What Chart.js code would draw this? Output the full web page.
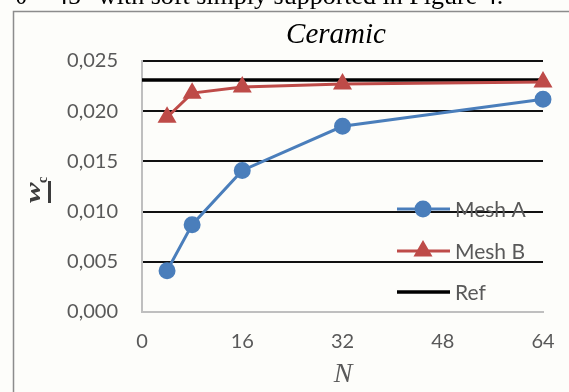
<!DOCTYPE html>
<html>
<head>
<meta charset="utf-8">
<script src="https://cdn.jsdelivr.net/npm/chart.js@4.4.1/dist/chart.umd.min.js"></script>
<style>
  body { margin: 0; background: #fdfdfa; }
  canvas { display: block; }
</style>
</head>
<body>
<canvas id="grafico" width="569" height="392"></canvas>
<script>
// datos de desplazamiento central w_c frente a N
var valoresN = [4, 8, 16, 32, 64];
var meshA = [0.0041, 0.0087, 0.0141, 0.0185, 0.0212];
var meshB = [0.0194, 0.0218, 0.0224, 0.0227, 0.0229];
var refN = [0, 64];
var refValor = [0.0231, 0.0231];
var ticksX = [0, 16, 32, 48, 64];
var ticksY = [0, 0.005, 0.010, 0.015, 0.020, 0.025];

var fuenteEje = { family: 'Lato', size: 20 };
var grisTexto = '#595959';

function puntos(xs, ys) {
    return xs.map(function (x, i) { return { x: x, y: ys[i] }; });
}

// fondo, marco, titulo y nombres de ejes
var decorado = {
    id: 'decorado',
    beforeDraw: function (chart) {
        var ctx = chart.ctx;
        ctx.save();
        ctx.fillStyle = '#fdfdfa';
        ctx.fillRect(0, 0, chart.width, chart.height);

        ctx.strokeStyle = '#8c8c8c';
        ctx.lineWidth = 1.5;
        ctx.strokeRect(13.5, 11.5, chart.width + 20, chart.height + 20);

        ctx.fillStyle = '#000';
        ctx.textAlign = 'left';
        ctx.textBaseline = 'alphabetic';
        ctx.font = '26px "Liberation Serif"';
        ctx.fillText('\u03b8 = 45\u00b0 with soft simply supported in Figure 4.', 15, 4);
        ctx.restore();
    },
    afterDraw: function (chart) {
        var ctx = chart.ctx;
        ctx.save();
        ctx.fillStyle = '#000';
        ctx.textAlign = 'center';
        ctx.textBaseline = 'alphabetic';
        ctx.font = 'italic 29px "Liberation Serif"';
        ctx.fillText('Ceramic', 336, 43);

        ctx.fillStyle = grisTexto;
        ctx.font = 'italic 28px "Liberation Serif"';
        ctx.fillText('N', 343, 382);

        // w_c subrayado, girado
        ctx.translate(40, 203);
        ctx.rotate(-Math.PI / 2);
        ctx.fillStyle = '#3c3c3c';
        ctx.textAlign = 'left';
        ctx.save();
        ctx.scale(1.4, 1);
        ctx.font = 'bold italic 22px "Liberation Serif"';
        ctx.fillText('w', 0, 0);
        ctx.restore();
        ctx.font = 'bold 14px "Liberation Serif"';
        ctx.fillText('c', 20, 7);
        ctx.fillRect(0, 8, 22, 3);
        ctx.restore();
    }
};

// leyenda dentro del area de trazado
var leyenda = {
    id: 'leyenda',
    afterDatasetsDraw: function (chart) {
        var ctx = chart.ctx;
        var filas = [209, 251, 292];
        ctx.save();
        chart.data.datasets.forEach(function (ds, i) {
            var y = filas[i];
            ctx.strokeStyle = ds.borderColor;
            ctx.lineWidth = ds.borderWidth;
            ctx.beginPath();
            ctx.moveTo(397, y);
            ctx.lineTo(450, y);
            ctx.stroke();
            if (ds.pointRadius > 0) {
                ctx.fillStyle = ds.backgroundColor;
                ctx.strokeStyle = ds.borderColor;
                Chart.helpers.drawPoint(ctx, {
                    pointStyle: ds.pointStyle,
                    radius: ds.pointRadius,
                    rotation: 0,
                    borderWidth: 1
                }, 423, y);
            }
            ctx.fillStyle = grisTexto;
            ctx.font = '21px Lato';
            ctx.textAlign = 'left';
            ctx.textBaseline = 'middle';
            ctx.fillText(ds.label, 455, y + 1);
        });
        ctx.restore();
    }
};

new Chart(document.getElementById('grafico'), {
    type: 'scatter',
    data: {
        datasets: [{
            label: 'Mesh A',
            data: puntos(valoresN, meshA),
            showLine: true,
            borderColor: '#4a7ebb',
            backgroundColor: '#4a7ebb',
            borderWidth: 3,
            pointStyle: 'circle',
            pointRadius: 7,
            pointHoverRadius: 7,
            clip: false
        }, {
            label: 'Mesh B',
            data: puntos(valoresN, meshB),
            showLine: true,
            borderColor: '#be4b48',
            backgroundColor: '#be4b48',
            borderWidth: 3,
            pointStyle: 'triangle',
            pointRadius: 8,
            pointHoverRadius: 8,
            clip: false
        }, {
            label: 'Ref',
            data: puntos(refN, refValor),
            showLine: true,
            borderColor: '#000000',
            backgroundColor: '#000000',
            borderWidth: 3.5,
            pointRadius: 0,
            clip: false
        }]
    },
    options: {
        responsive: false,
        animation: false,
        layout: { padding: { top: 61, right: 26, left: 0, bottom: 0 } },
        plugins: {
            legend: { display: false },
            title: { display: false },
            tooltip: { enabled: false }
        },
        scales: {
            x: {
                type: 'linear',
                min: 0,
                max: 64,
                afterBuildTicks: function (scale) {
                    scale.ticks = ticksX.map(function (v) { return { value: v }; });
                },
                afterFit: function (scale) {
                    scale.height = 80;
                    scale.paddingLeft = 0;
                    scale.paddingRight = 0;
                },
                grid: { display: false, drawTicks: false },
                border: { color: '#bfbfbf', width: 2 },
                ticks: { padding: 18, font: fuenteEje, color: grisTexto }
            },
            y: {
                min: 0,
                max: 0.025,
                afterBuildTicks: function (scale) {
                    scale.ticks = ticksY.map(function (v) { return { value: v }; });
                },
                afterFit: function (scale) { scale.width = 142; },
                grid: {
                    color: function (c) { return c.tick.value === 0 ? '#bfbfbf' : '#111111'; },
                    lineWidth: 2,
                    drawTicks: false
                },
                border: { color: '#bfbfbf', width: 2 },
                ticks: {
                    padding: 24,
                    font: fuenteEje,
                    color: grisTexto,
                    callback: function (v) { return v.toFixed(3).replace('.', ','); }
                }
            }
        }
    },
    plugins: [decorado, leyenda]
});
</script>
</body>
</html>
